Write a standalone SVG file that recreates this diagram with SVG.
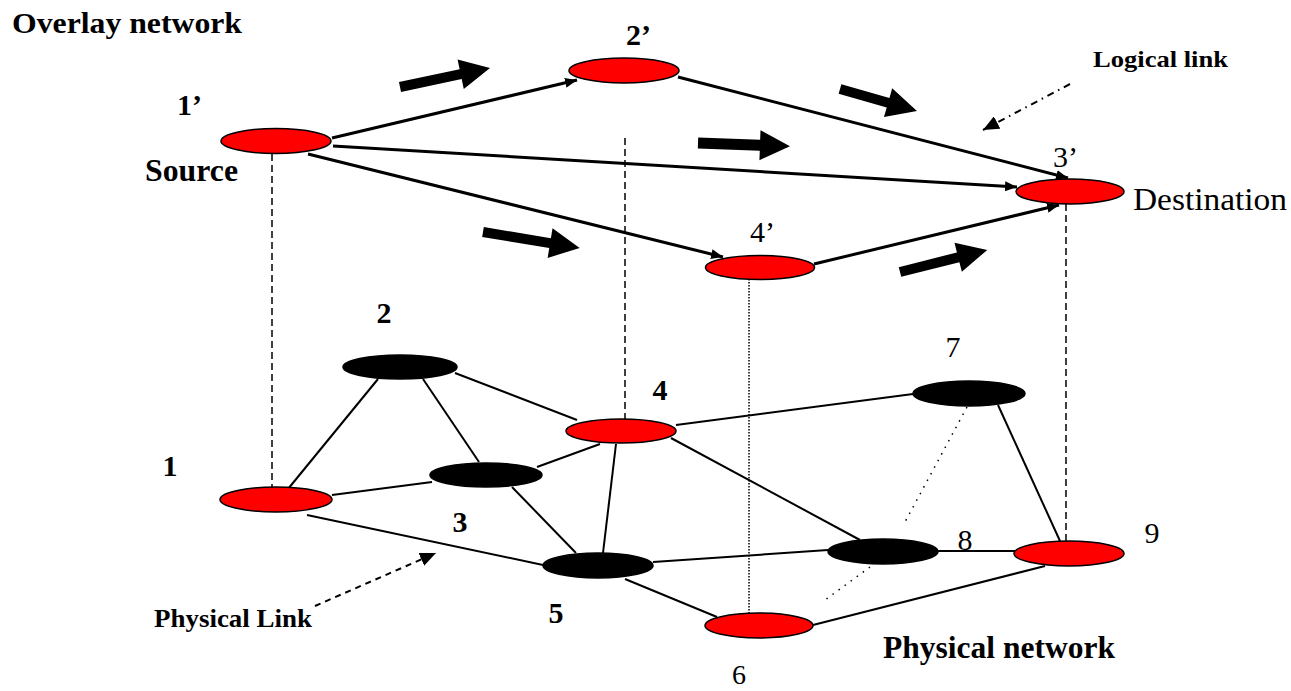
<svg xmlns="http://www.w3.org/2000/svg" width="1291" height="691" viewBox="0 0 1291 691">
<style>
.red{fill:#ff0000;stroke:#000;stroke-width:1.5}
.blk{fill:#000;stroke:#000;stroke-width:1.5}
.ov{stroke:#000;stroke-width:3;fill:none}
.ph{stroke:#000;stroke-width:2;fill:none}
.dot{stroke:#000;stroke-width:1.5;fill:none;stroke-dasharray:1.5 6}
.vdash{stroke:#000;stroke-width:1.5;fill:none;stroke-dasharray:7 4}
.vdot{stroke:#000;stroke-width:1.5;fill:none;stroke-dasharray:1.5 1.5}
.big{fill:#000}
.tb{font-family:"Liberation Serif","Times New Roman",serif;font-weight:bold;fill:#000}
.tr{font-family:"Liberation Serif","Times New Roman",serif;fill:#000}
</style>
<defs>
<marker id="ah" viewBox="0 0 12 10" refX="12" refY="5" markerWidth="12" markerHeight="10" markerUnits="userSpaceOnUse" orient="auto">
<path d="M0,0 L12,5 L0,10 z" fill="#000"/>
</marker>
<marker id="ah2" viewBox="0 0 16 14" refX="16" refY="7" markerWidth="16" markerHeight="14" markerUnits="userSpaceOnUse" orient="auto">
<path d="M0,0 L16,7 L0,14 z" fill="#000"/>
</marker>
</defs>

<g id="connectors">
<line class="ov" x1="332" y1="138" x2="577" y2="80" marker-end="url(#ah)"/>
<line class="ov" x1="678" y1="77" x2="1068" y2="178" marker-end="url(#ah)"/>
<line class="ov" x1="333" y1="146" x2="1017" y2="187" marker-end="url(#ah)"/>
<line class="ov" x1="308" y1="154" x2="723" y2="257" marker-end="url(#ah)"/>
<line class="ov" x1="814" y1="264" x2="1059" y2="205" marker-end="url(#ah)"/>
<line class="vdash" x1="272" y1="154" x2="272" y2="487"/>
<line class="vdash" x1="625" y1="138" x2="625" y2="419"/>
<line class="vdot" x1="749" y1="279" x2="749" y2="613"/>
<line class="vdash" x1="1066" y1="204" x2="1066" y2="541"/>
<line class="ph" x1="288" y1="489" x2="378" y2="379"/>
<line class="ph" x1="423" y1="379" x2="479" y2="462"/>
<line class="ph" x1="455" y1="373" x2="577" y2="420"/>
<line class="ph" x1="332" y1="495" x2="432" y2="482"/>
<line class="ph" x1="307" y1="515" x2="543" y2="565"/>
<line class="ph" x1="537" y1="467" x2="600" y2="444"/>
<line class="ph" x1="512" y1="487" x2="576" y2="553"/>
<line class="ph" x1="616" y1="444" x2="603" y2="553"/>
<line class="ph" x1="676" y1="425" x2="913" y2="394"/>
<line class="ph" x1="671" y1="438" x2="860" y2="540"/>
<line class="ph" x1="653" y1="562" x2="828" y2="550"/>
<line class="ph" x1="625" y1="579" x2="717" y2="617"/>
<line class="dot" x1="967" y1="407" x2="905" y2="522"/>
<line class="ph" x1="998" y1="405" x2="1060" y2="541"/>
<line class="ph" x1="938" y1="551" x2="1015" y2="551"/>
<line class="ph" x1="813" y1="625" x2="1045" y2="566"/>
<line class="dot" x1="870" y1="567" x2="825" y2="600"/>
<line x1="315" y1="606" x2="436" y2="553" stroke="#000" stroke-width="2" stroke-dasharray="6 5" marker-end="url(#ah2)"/>
<line x1="1070" y1="84" x2="983" y2="130" stroke="#000" stroke-width="2" stroke-dasharray="7 5 1.5 5" marker-end="url(#ah2)"/>
<polygon class="big" transform="translate(400,87) rotate(-11.9)" points="0,-5 62,-5 62,-15 92,0 62,15 62,5 0,5"/>
<polygon class="big" transform="translate(840,89) rotate(15.9)" points="0,-5 50,-5 50,-15 80,0 50,15 50,5 0,5"/>
<polygon class="big" transform="translate(698,143) rotate(2)" points="0,-5.5 62,-5.5 62,-15 92,0 62,15 62,5.5 0,5.5"/>
<polygon class="big" transform="translate(483,232) rotate(9.4)" points="0,-5 68,-5 68,-15 98,0 68,15 68,5 0,5"/>
<polygon class="big" transform="translate(900,272) rotate(-14.2)" points="0,-5 60,-5 60,-15 90,0 60,15 60,5 0,5"/>
</g>

<g id="node-1p"><ellipse class="red" cx="276" cy="141" rx="55" ry="12.5"/></g>
<g id="node-2p"><ellipse class="red" cx="624" cy="70.5" rx="55" ry="12.5"/></g>
<g id="node-3p"><ellipse class="red" cx="1070" cy="191.5" rx="54" ry="12.5"/></g>
<g id="node-4p"><ellipse class="red" cx="760" cy="267.5" rx="54.5" ry="12"/></g>
<g id="node-1"><ellipse class="red" cx="276" cy="499.5" rx="56" ry="12.5"/></g>
<g id="node-2"><ellipse class="blk" cx="400" cy="367" rx="57" ry="12"/></g>
<g id="node-3"><ellipse class="blk" cx="486" cy="475" rx="56" ry="12"/></g>
<g id="node-4"><ellipse class="red" cx="621" cy="431" rx="55" ry="12"/></g>
<g id="node-5"><ellipse class="blk" cx="598" cy="565.5" rx="55" ry="12.5"/></g>
<g id="node-6"><ellipse class="red" cx="759" cy="625.5" rx="54" ry="12.5"/></g>
<g id="node-7"><ellipse class="blk" cx="969" cy="393.5" rx="56" ry="12.5"/></g>
<g id="node-8"><ellipse class="blk" cx="883" cy="551.5" rx="55" ry="12.5"/></g>
<g id="node-9"><ellipse class="red" cx="1069" cy="553.5" rx="55" ry="12.5"/></g>

<g id="labels">
<text class="tb" x="12" y="33" font-size="30" textLength="230" lengthAdjust="spacingAndGlyphs">Overlay network</text>
<text class="tb" x="1093" y="67" font-size="24" textLength="135" lengthAdjust="spacingAndGlyphs">Logical link</text>
<text class="tb" x="145" y="181" font-size="31" textLength="93" lengthAdjust="spacingAndGlyphs">Source</text>
<text class="tr" x="1133" y="210" font-size="32" textLength="154" lengthAdjust="spacingAndGlyphs">Destination</text>
<text class="tb" x="154" y="627" font-size="25" textLength="158" lengthAdjust="spacingAndGlyphs">Physical Link</text>
<text class="tb" x="883" y="658" font-size="31" textLength="232" lengthAdjust="spacingAndGlyphs">Physical network</text>
<text class="tb" x="177" y="115" font-size="30">1’</text>
<text class="tb" x="626" y="45" font-size="30">2’</text>
<text class="tr" x="1053" y="167" font-size="30">3’</text>
<text class="tr" x="750" y="242" font-size="30">4’</text>
<text class="tb" x="170" y="476" font-size="30" text-anchor="middle">1</text>
<text class="tb" x="384" y="323" font-size="30" text-anchor="middle">2</text>
<text class="tb" x="460" y="532" font-size="30" text-anchor="middle">3</text>
<text class="tb" x="660" y="400" font-size="30" text-anchor="middle">4</text>
<text class="tb" x="556" y="623" font-size="30" text-anchor="middle">5</text>
<text class="tr" x="739" y="684" font-size="28" text-anchor="middle">6</text>
<text class="tr" x="953" y="357" font-size="30" text-anchor="middle">7</text>
<text class="tr" x="965" y="550" font-size="30" text-anchor="middle">8</text>
<text class="tr" x="1152" y="543" font-size="30" text-anchor="middle">9</text>
</g>
</svg>
